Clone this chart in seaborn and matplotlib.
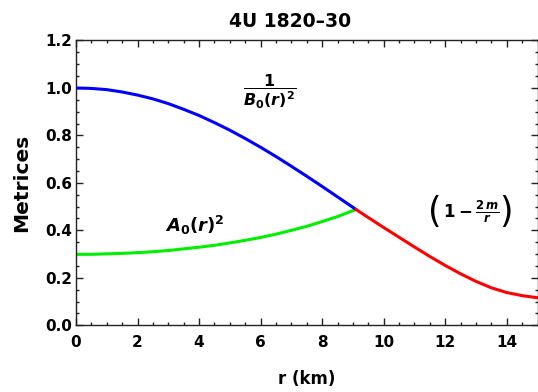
import matplotlib
matplotlib.use("Agg")
import matplotlib.pyplot as plt
from matplotlib.ticker import MultipleLocator
import pandas as pd
import seaborn as sns

# Interior solution (0 <= r <= R), radius in km
r_inside = [0.0, 0.5, 1.0, 1.5, 2.0, 2.5, 3.0, 3.5, 4.0, 4.5, 5.0, 5.5,
            6.0, 6.5, 7.0, 7.5, 8.0, 8.5, 9.0, 9.1]
inv_B0_sq = [1.000, 0.998, 0.993, 0.983, 0.970, 0.954, 0.934, 0.910, 0.884,
             0.854, 0.822, 0.787, 0.750, 0.711, 0.670, 0.628, 0.585, 0.541,
             0.497, 0.488]
A0_sq = [0.299, 0.299, 0.301, 0.303, 0.306, 0.310, 0.315, 0.322, 0.329,
         0.337, 0.347, 0.358, 0.370, 0.384, 0.400, 0.417, 0.437, 0.458,
         0.483, 0.488]

# Exterior Schwarzschild part (r >= R)
r_outside = [9.1, 9.5, 10.0, 10.5, 11.0, 11.5, 12.0, 12.5, 13.0, 13.5,
             14.0, 14.5, 15.0]
schwarzschild = [0.488, 0.454, 0.412, 0.371, 0.330, 0.290, 0.252, 0.217,
                 0.185, 0.158, 0.138, 0.125, 0.116]

x_ticks = [0, 2, 4, 6, 8, 10, 12, 14]
y_ticks = [0.0, 0.2, 0.4, 0.6, 0.8, 1.0, 1.2]
y_tick_labels = ["0.0", "0.2", "0.4", "0.6", "0.8", "1.0", "1.2"]

frames = [
    pd.DataFrame({"r": r_inside, "value": inv_B0_sq, "segment": "inv_B0_sq"}),
    pd.DataFrame({"r": r_inside, "value": A0_sq, "segment": "A0_sq"}),
    pd.DataFrame({"r": r_outside, "value": schwarzschild, "segment": "exterior"}),
]
df = pd.concat(frames, ignore_index=True)
palette = {"inv_B0_sq": "#0000ff", "A0_sq": "#00ee00", "exterior": "#ff0000"}

sns.set_style("ticks")
plt.rcParams["font.family"] = ["DejaVu Sans"]
plt.rcParams["text.color"] = "black"
plt.rcParams["axes.labelcolor"] = "black"
plt.rcParams["xtick.color"] = "black"
plt.rcParams["ytick.color"] = "black"
plt.rcParams["mathtext.fontset"] = "custom"
plt.rcParams["mathtext.rm"] = "DejaVu Sans:bold"
plt.rcParams["mathtext.it"] = "DejaVu Sans:italic:bold"
plt.rcParams["mathtext.bf"] = "DejaVu Sans:bold"

fig = plt.figure(figsize=(5.38, 3.92), dpi=100)
ax = fig.add_axes([0.1413, 0.1702, 0.8578, 0.7265])

sns.lineplot(data=df, x="r", y="value", hue="segment", palette=palette,
             hue_order=["A0_sq", "inv_B0_sq", "exterior"],
             sort=False, estimator=None, linewidth=2.2, legend=False, ax=ax)

ax.set_xlim(0, 15)
ax.set_ylim(0, 1.2)
ax.set_xticks(x_ticks, labels=[str(t) for t in x_ticks], fontweight="bold")
ax.set_yticks(y_ticks, labels=y_tick_labels, fontweight="bold")
ax.xaxis.set_minor_locator(MultipleLocator(0.5))
ax.yaxis.set_minor_locator(MultipleLocator(0.05))
ax.tick_params(which="both", direction="in", top=True, right=True,
               width=1.0, color="#222222", labelcolor="black", labelsize=11)
ax.tick_params(which="major", length=5)
ax.tick_params(which="minor", length=2.5)
ax.tick_params(axis="x", which="major", pad=7)
ax.tick_params(axis="y", which="major", pad=3)
for spine in ax.spines.values():
    spine.set_visible(True)
    spine.set_color("#222222")
    spine.set_linewidth(1.0)

ax.set_title("4U 1820\u201330", fontsize=13.5, fontweight="bold",
             x=(290.5 - 76) / 461.5, pad=10, color="black")
ax.set_xlabel("r (km)", fontsize=12, fontweight="bold", va="center")
ax.xaxis.set_label_coords(0.5, -0.189)
ax.set_ylabel("Metrices", fontsize=14.5, fontweight="bold", va="center")
ax.yaxis.set_label_coords(-0.117, 0.5)

# Curve labels
ax.text(6.3, 0.982, r"$\dfrac{1}{B_0(r)^2}$", fontsize=11.5,
        ha="center", va="center")
ax.text(3.86, 0.42, r"$A_0(r)^2$", fontsize=13, ha="center", va="center")
ax.text(12.84, 0.478, r"$\mathbf{1} - \frac{2\,m}{r}$", fontsize=12,
        ha="center", va="center")
ax.text(11.66, 0.478, "(", fontsize=25, ha="center", va="center")
ax.text(13.98, 0.478, ")", fontsize=25, ha="center", va="center")

fig.savefig("out.png", dpi=100)
